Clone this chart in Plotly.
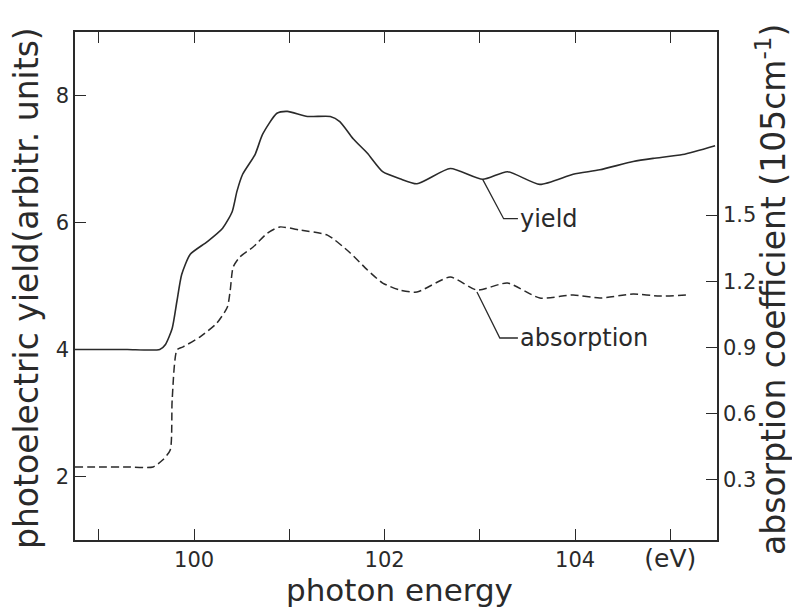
import plotly.graph_objects as go

# Photoelectric yield (left axis, arbitrary units) vs photon energy (eV)
yield_energy = [98.75, 99.0, 99.3, 99.64, 99.70, 99.77, 99.82, 99.87, 99.96, 100.14,
                100.30, 100.40, 100.45, 100.51, 100.64, 100.72, 100.87, 100.98, 101.19,
                101.43, 101.53, 101.67, 101.82, 101.98, 102.16, 102.34, 102.69, 103.03,
                103.29, 103.63, 103.98, 104.26, 104.61, 104.82, 105.13, 105.47]
yield_values = [4.0, 4.0, 4.0, 4.0, 4.08, 4.33, 4.76, 5.18, 5.50, 5.70,
                5.91, 6.17, 6.49, 6.76, 7.07, 7.39, 7.72, 7.75, 7.67,
                7.67, 7.59, 7.32, 7.09, 6.80, 6.69, 6.61, 6.85, 6.68,
                6.80, 6.60, 6.76, 6.83, 6.96, 7.01, 7.07, 7.21]

# Absorption coefficient (right axis) vs photon energy (eV)
abs_energy = [98.75, 99.0, 99.3, 99.57, 99.67, 99.75, 99.77, 99.82, 99.88, 100.06,
              100.24, 100.35, 100.38, 100.41, 100.48, 100.62, 100.77, 100.90, 101.11,
              101.40, 101.64, 101.82, 101.98, 102.16, 102.34, 102.69, 102.97, 103.29,
              103.63, 103.98, 104.26, 104.61, 104.89, 105.18]
abs_values = [0.359, 0.359, 0.359, 0.359, 0.390, 0.436, 0.662, 0.889, 0.902, 0.947,
              1.011, 1.083, 1.160, 1.264, 1.310, 1.355, 1.418, 1.446, 1.432,
              1.409, 1.328, 1.251, 1.192, 1.160, 1.151, 1.219, 1.160, 1.192,
              1.124, 1.138, 1.124, 1.142, 1.133, 1.138]

# Axis ticks (labelled ones; unlabelled ticks every 1 eV)
x_tickvals = [100, 102, 104, 105]
x_ticktext = ["100", "102", "104", "<span style='font-size:25px'>(eV)</span>"]
y_tickvals = [2, 4, 6, 8]
y2_tickvals = [0.3, 0.6, 0.9, 1.2, 1.5]
y2_ticktext = ["0.3", "0.6", "0.9", "1.2", "1.5"]

# Curve labels with their leader lines (energy, value) points
yield_leader_x = [103.03, 103.25, 103.40]
yield_leader_y = [6.68, 6.06, 6.06]
abs_leader_x = [102.97, 103.21, 103.40]
abs_leader_y = [1.151, 0.943, 0.943]

INK = "#2a2a2a"
FONT = "DejaVu Sans"

fig = go.Figure()

fig.add_trace(go.Scatter(
    x=yield_energy, y=yield_values, mode="lines",
    line=dict(color=INK, width=1.6, shape="spline", smoothing=0.6),
    showlegend=False, hoverinfo="skip"))

fig.add_trace(go.Scatter(
    x=abs_energy, y=abs_values, mode="lines", yaxis="y2",
    line=dict(color=INK, width=1.5, dash="8px,4px", shape="spline", smoothing=0.6),
    showlegend=False, hoverinfo="skip"))

fig.add_trace(go.Scatter(
    x=yield_leader_x, y=yield_leader_y, mode="lines",
    line=dict(color=INK, width=1.3), showlegend=False, hoverinfo="skip"))
fig.add_trace(go.Scatter(
    x=abs_leader_x, y=abs_leader_y, mode="lines", yaxis="y2",
    line=dict(color=INK, width=1.3), showlegend=False, hoverinfo="skip"))

fig.add_annotation(x=yield_leader_x[-1], y=yield_leader_y[-1], text="yield",
                   xanchor="left", yanchor="middle", showarrow=False, xshift=0,
                   font=dict(family=FONT, size=24, color=INK))
fig.add_annotation(x=abs_leader_x[-1], y=abs_leader_y[-1], yref="y2", text="absorption",
                   xanchor="left", yanchor="middle", showarrow=False, xshift=0,
                   font=dict(family=FONT, size=24, color=INK))

# Axis titles
fig.add_annotation(x=-0.0763, y=0.496, xref="paper", yref="paper",
                   xanchor="center", yanchor="middle",
                   text="photoelectric yield(arbitr. units)", textangle=-90,
                   showarrow=False, font=dict(family=FONT, size=33, color=INK))
fig.add_annotation(x=1.084, y=0.494, xref="paper", yref="paper",
                   xanchor="center", yanchor="middle",
                   text="absorption coefficient (105cm<sup>-1</sup>)", textangle=-90,
                   showarrow=False, font=dict(family=FONT, size=33, color=INK))
fig.add_annotation(x=0.505, y=-0.098, xref="paper", yref="paper",
                   xanchor="center", yanchor="middle",
                   text="photon energy", showarrow=False,
                   font=dict(family=FONT, size=31, color=INK))

axis_common = dict(showline=True, linecolor=INK, linewidth=1.6, showgrid=False,
                   zeroline=False, ticks="inside", ticklen=11, tickwidth=1.4,
                   tickcolor=INK, tickfont=dict(family=FONT, size=21, color=INK))

fig.update_layout(
    width=792, height=612,
    margin=dict(l=75, r=75, t=32, b=72),
    paper_bgcolor="white", plot_bgcolor="white",
    xaxis=dict(range=[98.75, 105.49], tickvals=x_tickvals, ticktext=x_ticktext,
               mirror="ticks",
               minor=dict(tick0=99, dtick=1, ticks="inside", ticklen=11,
                          tickwidth=1.4, tickcolor=INK, showgrid=False),
               **axis_common),
    yaxis=dict(range=[1.0, 9.0], tickvals=y_tickvals, **axis_common),
    yaxis2=dict(range=[0.028, 2.329], tickvals=y2_tickvals, ticktext=y2_ticktext,
                overlaying="y", side="right", **axis_common),
)

fig.write_html("out.html")
